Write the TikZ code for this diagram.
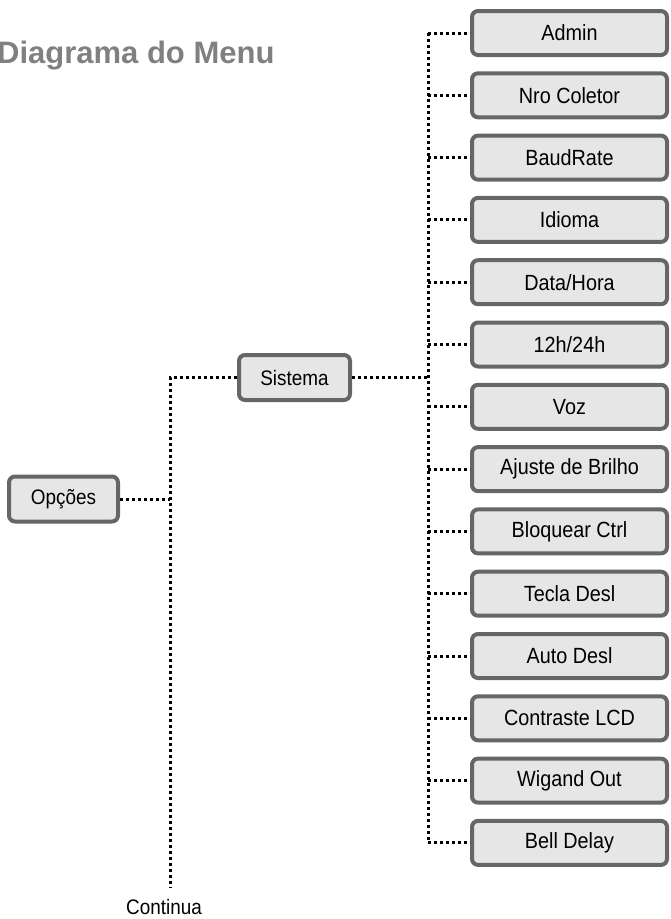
\documentclass[tikz,border=0pt]{standalone}
\usepackage{fontspec}
\setmainfont{Liberation Sans}[FakeStretch=0.9]
\newfontfamily\titlefont{Liberation Sans}
\definecolor{boxfill}{HTML}{E6E6E6}
\definecolor{boxline}{HTML}{666666}
\definecolor{titlegray}{HTML}{808080}
\tikzset{
  menubox/.style={draw=boxline, line width=4pt, fill=boxfill, rounded corners=6pt,
    inner sep=0pt, font=\fontsize{21}{25}\selectfont, text=black},
  itembox/.style={menubox, minimum width=195pt, minimum height=44pt, font=\fontsize{22}{26}\selectfont},
  dotline/.style={line width=3pt, dash pattern=on 3pt off 3pt, black}
}
\begin{document}
\begin{tikzpicture}[x=1pt,y=-1pt]
\useasboundingbox (0,0) rectangle (671,919);
\node[anchor=base west, text=titlegray, font=\titlefont\bfseries\fontsize{31}{36}\selectfont, inner sep=0pt] (title) at (-3,63) {Diagrama do Menu};

\node[menubox, minimum width=109pt, minimum height=45pt] (opc) at (63.5,499) {Opções};
\node[menubox, minimum width=111pt, minimum height=45pt] (sis) at (294.5,377.5) {Sistema};

\node[itembox] (n1) at (569.5,33) {Admin};
\node[itembox] (n2) at (569.5,95.3) {Nro Coletor};
\node[itembox] (n3) at (569.5,157.6) {BaudRate};
\node[itembox] (n4) at (569.5,219.9) {Idioma};
\node[itembox] (n5) at (569.5,282.2) {Data/Hora};
\node[itembox] (n6) at (569.5,344.5) {12h/24h};
\node[itembox] (n7) at (569.5,406.8) {Voz};
\node[itembox] (n8) at (569.5,469.1) {Ajuste de Brilho};
\node[itembox] (n9) at (569.5,531.4) {Bloquear Ctrl};
\node[itembox] (n10) at (569.5,593.7) {Tecla Desl};
\node[itembox] (n11) at (569.5,656) {Auto Desl};
\node[itembox] (n12) at (569.5,718.3) {Contraste LCD};
\node[itembox] (n13) at (569.5,780.6) {Wigand Out};
\node[itembox] (n14) at (569.5,842.9) {Bell Delay};

\node[font=\fontsize{21}{25}\selectfont, inner sep=0pt] (cont) at (164,907) {Continua};

\coordinate (bus) at (428,0);
\coordinate (lbus) at (170,0);
\coordinate (contend) at (170,888);

\draw[dotline] (opc.east) -- (opc.east -| lbus);
\draw[dotline] (sis.west) -| (contend);
\draw[dotline] (sis.east) -- (sis.east -| bus);
\draw[dotline] (n1.west -| bus) -- (n14.west -| bus);
\foreach \i in {1,...,14}{
  \draw[dotline] (n\i.west -| bus) -- (n\i.west);
}
\end{tikzpicture}
\end{document}
